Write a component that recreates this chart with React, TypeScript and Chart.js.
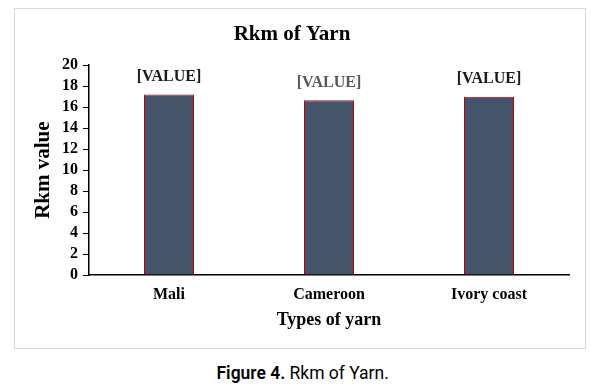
import React, { useEffect, useRef } from "react";
import { Chart, registerables } from "chart.js";

Chart.register(...registerables);

const categories = ["Mali", "Cameroon", "Ivory coast"];
const rkmValues = [17.2, 16.65, 17.0];
const valueLabels = ["[VALUE]", "[VALUE]", "[VALUE]"];
const labelColors = ["#1a1a1a", "#595959", "#1a1a1a"];
const yTicks = { min: 0, max: 20, step: 2 };

const SERIF = '"Liberation Serif", "Times New Roman", serif';

const valueLabelPlugin = {
  id: "valueLabels",
  afterDatasetsDraw(chart: any) {
    const ctx = chart.ctx;
    const meta = chart.getDatasetMeta(0);
    ctx.save();
    ctx.font = `bold 16px ${SERIF}`;
    ctx.textAlign = "center";
    ctx.textBaseline = "middle";
    meta.data.forEach((bar: any, i: number) => {
      ctx.fillStyle = labelColors[i];
      ctx.fillText(valueLabels[i], bar.x, bar.y - 17.5);
    });
    ctx.restore();
  },
};

export default function App() {
  const canvasRef = useRef<HTMLCanvasElement | null>(null);

  useEffect(() => {
    if (!canvasRef.current) return;
    const chart = new Chart(canvasRef.current, {
      type: "bar",
      data: {
        labels: categories,
        datasets: [
          {
            label: "Rkm value",
            data: rkmValues,
            backgroundColor: "#44546a",
            borderColor: "#c00000",
            borderWidth: 1,
            categoryPercentage: 1,
            barPercentage: 0.3125,
          },
        ],
      },
      options: {
        animation: false,
        responsive: false,
        maintainAspectRatio: false,
        layout: { padding: { left: 0, right: 16, top: 0, bottom: 0 } },
        plugins: {
          legend: { display: false },
          tooltip: { enabled: false },
          title: {
            display: true,
            text: "Rkm of Yarn",
            color: "#000",
            font: { family: SERIF, size: 21, weight: "bold", lineHeight: 1.2 },
            padding: { top: 13, bottom: 18 },
          },
        },
        scales: {
          x: {
            grid: { display: false, drawTicks: false },
            border: { display: true, color: "#000", width: 1.5 },
            ticks: {
              color: "#000",
              padding: 10,
              font: { family: SERIF, size: 16, weight: "bold", lineHeight: 1.2 },
            },
            title: {
              display: true,
              text: "Types of yarn",
              color: "#000",
              font: { family: SERIF, size: 18, weight: "bold", lineHeight: 1.2 },
              padding: { top: 0, bottom: 17 },
            },
            afterFit: (scale: any) => {
              scale.height = 73;
            },
          },
          y: {
            min: yTicks.min,
            max: yTicks.max,
            grid: {
              display: true,
              drawOnChartArea: false,
              drawTicks: true,
              tickLength: 6,
              color: "#000",
              lineWidth: 1,
            },
            border: { display: true, color: "#000", width: 1.5 },
            ticks: {
              stepSize: yTicks.step,
              autoSkip: false,
              color: "#000",
              padding: 5,
              font: { family: SERIF, size: 16, weight: "bold", lineHeight: 1.2 },
            },
            title: {
              display: true,
              text: "Rkm value",
              color: "#000",
              font: { family: SERIF, size: 21, weight: "bold", lineHeight: 1.2 },
              padding: { top: 16, bottom: 0 },
            },
            afterFit: (scale: any) => {
              scale.width = 74;
            },
          },
        },
      },
      plugins: [valueLabelPlugin],
    });
    return () => chart.destroy();
  }, []);

  return (
    <div style={{ position: "absolute", left: 0, top: 0, width: 605, height: 391, background: "#fff" }}>
      <div
        style={{
          position: "absolute",
          left: 14,
          top: 8,
          width: 570,
          height: 339,
          border: "1px solid #d9d9d9",
          background: "#fff",
        }}
      >
        <canvas ref={canvasRef} width={570} height={339} style={{ display: "block", width: 570, height: 339 }} />
      </div>
      <div
        style={{
          position: "absolute",
          left: 0,
          width: 605,
          top: 361,
          textAlign: "center",
          fontFamily: "Roboto, 'Noto Sans', sans-serif",
          fontSize: 19,
          lineHeight: "24px",
          color: "#000",
        }}
      >
        <span style={{ display: "inline-block", transform: "scaleX(0.92)", transformOrigin: "center" }}>
          <b style={{ fontWeight: 600 }}>Figure 4.</b> Rkm of Yarn.
        </span>
      </div>
    </div>
  );
}
